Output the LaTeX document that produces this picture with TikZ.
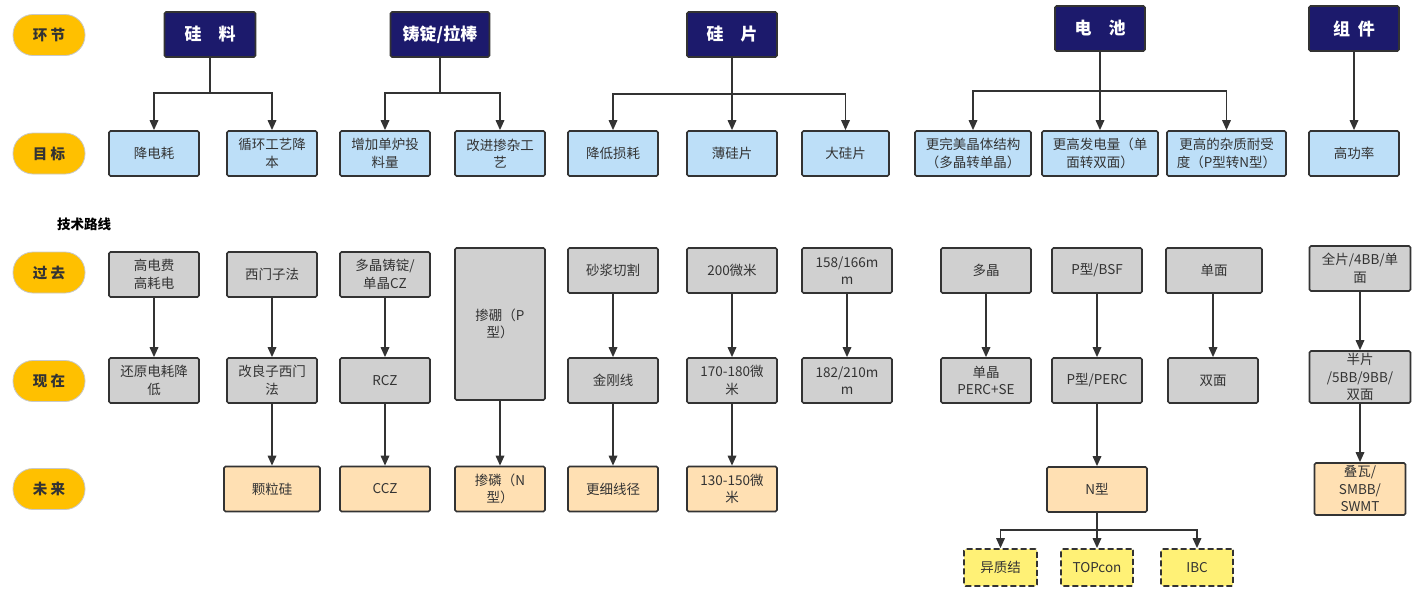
\documentclass[tikz,border=0pt]{standalone}
\usepackage{fontspec}
\setmainfont{Noto Sans CJK SC}
\usetikzlibrary{arrows.meta}
\definecolor{navy}{HTML}{1C1A6C}
\definecolor{lblue}{HTML}{BDDFF8}
\definecolor{lgray}{HTML}{D0D0D0}
\definecolor{peach}{HTML}{FFE0B3}
\definecolor{yel}{HTML}{FFF176}
\definecolor{gold}{HTML}{FFC000}
\definecolor{bd}{HTML}{333333}
\definecolor{tx}{HTML}{333333}
\definecolor{pillbd}{HTML}{C8C8C8}
\begin{document}
\begin{tikzpicture}[x=1pt,y=-1pt,
  box/.style={draw=bd, line width=1.7pt, rounded corners=1.5pt, inner sep=0pt, align=center,
    font=\fontsize{13.5}{17.5}\selectfont, text=tx, minimum height=45pt, minimum width=90pt},
  hdr/.style={box, fill=navy, text=white, font=\fontsize{17}{19}\selectfont\bfseries},
  goal/.style={box, fill=lblue},
  past/.style={box, fill=lgray},
  fut/.style={box, fill=peach},
  opt/.style={box, fill=yel, dash pattern=on 6pt off 3pt, minimum height=37pt, minimum width=72pt},
  pill/.style={draw=pillbd, line width=0.8pt, fill=gold, rounded corners=20pt, minimum width=72pt,
    minimum height=41pt, inner sep=0pt, font=\fontsize{14.5}{16}\selectfont\bfseries, text=tx},
  arr/.style={-{Triangle[length=10pt,width=8.5pt]}, line width=1.7pt, draw=bd}]
\useasboundingbox (0,0) rectangle (1413,590);

% row labels
\node[pill] (l1) at (49,35) {环 节};
\node[pill] (l2) at (49,153.5) {目 标};
\node[pill] (l3) at (49,272.5) {过 去};
\node[pill] (l4) at (49,381) {现 在};
\node[pill] (l5) at (49,489) {未 来};
\node[font=\fontsize{13.5}{15}\selectfont\bfseries, text=black] (tl) at (84,224) {技术路线};

% headers
\node[hdr, minimum width=91pt] (h1) at (210,34.5) {硅\quad 料};
\node[hdr, minimum width=99pt] (h2) at (440,34.5) {铸锭/拉棒};
\node[hdr] (h3) at (732,34.5) {硅\quad 片};
\node[hdr] (h4) at (1100,28.5) {电\quad 池};
\node[hdr] (h5) at (1354,28.5) {组\ \ 件};

% goals
\node[goal] (g1) at (154,153.5) {降电耗};
\node[goal] (g2) at (272,153.5) {循环工艺降\\本};
\node[goal] (g3) at (385,153.5) {增加单炉投\\料量};
\node[goal] (g4) at (500,153.5) {改进掺杂工\\艺};
\node[goal] (g5) at (613,153.5) {降低损耗};
\node[goal] (g6) at (732,153.5) {薄硅片};
\node[goal, minimum width=87pt] (g7) at (845.5,153.5) {大硅片};
\node[goal, minimum width=116pt] (g8) at (973,153.5) {更完美晶体结构\\（多晶转单晶）};
\node[goal, minimum width=116pt] (g9) at (1100,153.5) {更高发电量（单\\面转双面）};
\node[goal, minimum width=119pt] (g10) at (1226.5,153.5) {更高的杂质耐受\\度（P型转N型）};
\node[goal] (g11) at (1354,153.5) {高功率};

% header -> goal connectors
\draw[arr] (h1.south) -- (h1.south |- 0,93) -| (g1.north);
\draw[arr] (h1.south) -- (h1.south |- 0,93) -| (g2.north);
\draw[arr] (h2.south) -- (h2.south |- 0,93) -| (g3.north);
\draw[arr] (h2.south) -- (h2.south |- 0,93) -| (g4.north);
\draw[arr] (h3.south) -- (h3.south |- 0,94) -| (g5.north);
\draw[arr] (h3.south) -- (g6.north);
\draw[arr] (h3.south) -- (h3.south |- 0,94) -| (g7.north);
\draw[arr] (h4.south) -- (h4.south |- 0,91) -| (g8.north);
\draw[arr] (h4.south) -- (g9.north);
\draw[arr] (h4.south) -- (h4.south |- 0,91) -| (g10.north);
\draw[arr] (h5.south) -- (g11.north);

% past
\node[past] (p1) at (154,274.5) {高电费\\高耗电};
\node[past] (p2) at (272,274.5) {西门子法};
\node[past] (p3) at (385,274.5) {多晶铸锭/\\单晶CZ};
\node[past, minimum height=152pt] (p4) at (500,324) {掺硼（P\\型）};
\node[past] (p5) at (613,270.5) {砂浆切割};
\node[past] (p6) at (732,270.5) {200微米};
\node[past] (p7) at (847,270.5) {158/166m\\m};
\node[past] (p8) at (986,270.5) {多晶};
\node[past] (p9) at (1097,270.5) {P型/BSF};
\node[past, minimum width=96pt] (p10) at (1214,270.5) {单面};
\node[past, minimum width=101pt] (p11) at (1360,268.5) {全片/4BB/单\\面};

% present
\node[past] (n1) at (154,380.5) {还原电耗降\\低};
\node[past] (n2) at (272,380.5) {改良子西门\\法};
\node[past] (n3) at (385,380.5) {RCZ};
\node[past] (n5) at (613,380.5) {金刚线};
\node[past] (n6) at (732,380.5) {170-180微\\米};
\node[past] (n7) at (847,380.5) {182/210m\\m};
\node[past] (n8) at (986,380.5) {单晶\\PERC+SE};
\node[past] (n9) at (1097,380.5) {P型/PERC};
\node[past] (n10) at (1213,380.5) {双面};
\node[past, minimum width=101pt, minimum height=52pt] (n11) at (1360,377) {半片\\/5BB/9BB/\\双面};

% future
\node[fut, minimum width=96pt] (f2) at (272,489) {颗粒硅};
\node[fut] (f3) at (385,489) {CCZ};
\node[fut] (f4) at (500,489) {掺磷（N\\型）};
\node[fut] (f5) at (613,489) {更细线径};
\node[fut] (f6) at (732,489) {130-150微\\米};
\node[fut, minimum width=100pt] (f9) at (1097,489.5) {N型};
\node[fut, minimum width=91pt, minimum height=52pt] (f11) at (1360,489) {叠瓦/\\SMBB/\\SWMT};

% options
\node[opt, minimum width=73pt] (o1) at (1000.5,567.5) {异质结};
\node[opt] (o2) at (1097,567.5) {TOPcon};
\node[opt] (o3) at (1197,567.5) {IBC};

% vertical arrows
\draw[arr] (p1) -- (n1);
\draw[arr] (p2) -- (n2);
\draw[arr] (n2) -- (f2);
\draw[arr] (p3) -- (n3);
\draw[arr] (n3) -- (f3);
\draw[arr] (p4) -- (f4);
\draw[arr] (p5) -- (n5);
\draw[arr] (n5) -- (f5);
\draw[arr] (p6) -- (n6);
\draw[arr] (n6) -- (f6);
\draw[arr] (p7) -- (n7);
\draw[arr] (p8) -- (n8);
\draw[arr] (p9) -- (n9);
\draw[arr] (n9) -- (f9);
\draw[arr] (p10.south -| n10.north) -- (n10.north);
\draw[arr] (p11) -- (n11);
\draw[arr] (n11) -- (f11);

\draw[arr] (f9.south) -- (f9.south |- 0,530) -| (o1.north);
\draw[arr] (f9.south) -- (o2.north);
\draw[arr] (f9.south) -- (f9.south |- 0,530) -| (o3.north);
\end{tikzpicture}
\end{document}
